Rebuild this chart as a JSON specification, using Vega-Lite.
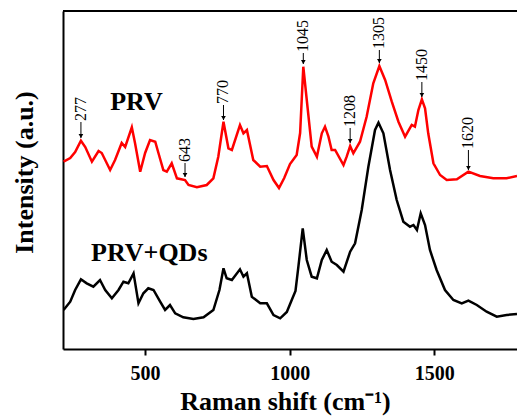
{
  "$schema": "https://vega.github.io/schema/vega-lite/v6.json",
  "width": 454,
  "height": 338,
  "autosize": "none",
  "padding": {"left": 63, "top": 11, "right": 0, "bottom": 67},
  "config": {
    "view": {"stroke": null},
    "font": "Liberation Serif",
    "axis": {"domainColor": "#000", "domainWidth": 2, "tickColor": "#000", "tickWidth": 2, "grid": false}
  },
  "datasets": {
    "spectra": [
      {"shift":218,"intensity":187.3,"sample":"PRV"},{"shift":241,"intensity":191,"sample":"PRV"},{"shift":258,"intensity":197,"sample":"PRV"},{"shift":278,"intensity":208.3,"sample":"PRV"},{"shift":293,"intensity":202,"sample":"PRV"},{"shift":316,"intensity":187.3,"sample":"PRV"},{"shift":339,"intensity":198,"sample":"PRV"},{"shift":350,"intensity":196,"sample":"PRV"},{"shift":379,"intensity":179,"sample":"PRV"},{"shift":396,"intensity":189,"sample":"PRV"},{"shift":419,"intensity":206,"sample":"PRV"},{"shift":431,"intensity":202,"sample":"PRV"},{"shift":454,"intensity":221.7,"sample":"PRV"},{"shift":465,"intensity":206,"sample":"PRV"},{"shift":483,"intensity":177.3,"sample":"PRV"},{"shift":500,"intensity":196,"sample":"PRV"},{"shift":517,"intensity":209,"sample":"PRV"},{"shift":535,"intensity":207.3,"sample":"PRV"},{"shift":546,"intensity":196,"sample":"PRV"},{"shift":563,"intensity":179,"sample":"PRV"},{"shift":575,"intensity":177.3,"sample":"PRV"},{"shift":592,"intensity":185.7,"sample":"PRV"},{"shift":610,"intensity":170.7,"sample":"PRV"},{"shift":638,"intensity":169,"sample":"PRV"},{"shift":650,"intensity":164,"sample":"PRV"},{"shift":679,"intensity":161.7,"sample":"PRV"},{"shift":713,"intensity":164,"sample":"PRV"},{"shift":736,"intensity":170.7,"sample":"PRV"},{"shift":753,"intensity":192.3,"sample":"PRV"},{"shift":771,"intensity":227.3,"sample":"PRV"},{"shift":788,"intensity":200.7,"sample":"PRV"},{"shift":800,"intensity":199,"sample":"PRV"},{"shift":828,"intensity":224,"sample":"PRV"},{"shift":840,"intensity":215.7,"sample":"PRV"},{"shift":852,"intensity":219,"sample":"PRV"},{"shift":874,"intensity":189,"sample":"PRV"},{"shift":898,"intensity":182.3,"sample":"PRV"},{"shift":921,"intensity":183,"sample":"PRV"},{"shift":944,"intensity":169,"sample":"PRV"},{"shift":963,"intensity":161,"sample":"PRV"},{"shift":981,"intensity":171,"sample":"PRV"},{"shift":1001,"intensity":185,"sample":"PRV"},{"shift":1024,"intensity":194,"sample":"PRV"},{"shift":1036,"intensity":216,"sample":"PRV"},{"shift":1047,"intensity":282.3,"sample":"PRV"},{"shift":1059,"intensity":249,"sample":"PRV"},{"shift":1076,"intensity":202.3,"sample":"PRV"},{"shift":1094,"intensity":192.3,"sample":"PRV"},{"shift":1111,"intensity":215.7,"sample":"PRV"},{"shift":1122,"intensity":222.3,"sample":"PRV"},{"shift":1134,"intensity":212.3,"sample":"PRV"},{"shift":1145,"intensity":199,"sample":"PRV"},{"shift":1157,"intensity":199,"sample":"PRV"},{"shift":1186,"intensity":184,"sample":"PRV"},{"shift":1197,"intensity":192.3,"sample":"PRV"},{"shift":1209,"intensity":203,"sample":"PRV"},{"shift":1220,"intensity":195.7,"sample":"PRV"},{"shift":1243,"intensity":207.3,"sample":"PRV"},{"shift":1266,"intensity":232.3,"sample":"PRV"},{"shift":1289,"intensity":265.7,"sample":"PRV"},{"shift":1310,"intensity":283,"sample":"PRV"},{"shift":1330,"intensity":269,"sample":"PRV"},{"shift":1353,"intensity":247.3,"sample":"PRV"},{"shift":1376,"intensity":227.3,"sample":"PRV"},{"shift":1399,"intensity":212.3,"sample":"PRV"},{"shift":1422,"intensity":224,"sample":"PRV"},{"shift":1433,"intensity":222.3,"sample":"PRV"},{"shift":1445,"intensity":239,"sample":"PRV"},{"shift":1457,"intensity":249.7,"sample":"PRV"},{"shift":1468,"intensity":240.7,"sample":"PRV"},{"shift":1479,"intensity":215.7,"sample":"PRV"},{"shift":1497,"intensity":185.7,"sample":"PRV"},{"shift":1520,"intensity":174,"sample":"PRV"},{"shift":1543,"intensity":169,"sample":"PRV"},{"shift":1578,"intensity":169.7,"sample":"PRV"},{"shift":1618,"intensity":177.3,"sample":"PRV"},{"shift":1658,"intensity":173,"sample":"PRV"},{"shift":1704,"intensity":170.7,"sample":"PRV"},{"shift":1750,"intensity":170.7,"sample":"PRV"},{"shift":1786,"intensity":173,"sample":"PRV"},
      {"shift":218,"intensity":39,"sample":"PRV+QDs"},{"shift":241,"intensity":47.3,"sample":"PRV+QDs"},{"shift":258,"intensity":59,"sample":"PRV+QDs"},{"shift":278,"intensity":69.7,"sample":"PRV+QDs"},{"shift":298,"intensity":65.7,"sample":"PRV+QDs"},{"shift":321,"intensity":62.3,"sample":"PRV+QDs"},{"shift":344,"intensity":69,"sample":"PRV+QDs"},{"shift":362,"intensity":59,"sample":"PRV+QDs"},{"shift":385,"intensity":50.7,"sample":"PRV+QDs"},{"shift":408,"intensity":59,"sample":"PRV+QDs"},{"shift":425,"intensity":67.3,"sample":"PRV+QDs"},{"shift":442,"intensity":65.7,"sample":"PRV+QDs"},{"shift":460,"intensity":75.7,"sample":"PRV+QDs"},{"shift":477,"intensity":45.7,"sample":"PRV+QDs"},{"shift":494,"intensity":55.7,"sample":"PRV+QDs"},{"shift":511,"intensity":60.7,"sample":"PRV+QDs"},{"shift":529,"intensity":59,"sample":"PRV+QDs"},{"shift":552,"intensity":47.3,"sample":"PRV+QDs"},{"shift":569,"intensity":39,"sample":"PRV+QDs"},{"shift":586,"intensity":44,"sample":"PRV+QDs"},{"shift":604,"intensity":35.7,"sample":"PRV+QDs"},{"shift":632,"intensity":31.7,"sample":"PRV+QDs"},{"shift":667,"intensity":30,"sample":"PRV+QDs"},{"shift":702,"intensity":31.7,"sample":"PRV+QDs"},{"shift":736,"intensity":39,"sample":"PRV+QDs"},{"shift":757,"intensity":59,"sample":"PRV+QDs"},{"shift":771,"intensity":80.7,"sample":"PRV+QDs"},{"shift":782,"intensity":70.7,"sample":"PRV+QDs"},{"shift":800,"intensity":69,"sample":"PRV+QDs"},{"shift":828,"intensity":79.7,"sample":"PRV+QDs"},{"shift":840,"intensity":72.3,"sample":"PRV+QDs"},{"shift":852,"intensity":75.7,"sample":"PRV+QDs"},{"shift":869,"intensity":52.3,"sample":"PRV+QDs"},{"shift":898,"intensity":45.7,"sample":"PRV+QDs"},{"shift":921,"intensity":45.7,"sample":"PRV+QDs"},{"shift":944,"intensity":34,"sample":"PRV+QDs"},{"shift":967,"intensity":30.7,"sample":"PRV+QDs"},{"shift":990,"intensity":37,"sample":"PRV+QDs"},{"shift":1007,"intensity":49,"sample":"PRV+QDs"},{"shift":1020,"intensity":58,"sample":"PRV+QDs"},{"shift":1030,"intensity":82.3,"sample":"PRV+QDs"},{"shift":1045,"intensity":120.7,"sample":"PRV+QDs"},{"shift":1059,"intensity":89,"sample":"PRV+QDs"},{"shift":1076,"intensity":72.3,"sample":"PRV+QDs"},{"shift":1094,"intensity":70.7,"sample":"PRV+QDs"},{"shift":1111,"intensity":89,"sample":"PRV+QDs"},{"shift":1128,"intensity":99,"sample":"PRV+QDs"},{"shift":1145,"intensity":87.3,"sample":"PRV+QDs"},{"shift":1163,"intensity":84,"sample":"PRV+QDs"},{"shift":1186,"intensity":77.3,"sample":"PRV+QDs"},{"shift":1209,"intensity":97.3,"sample":"PRV+QDs"},{"shift":1226,"intensity":105.7,"sample":"PRV+QDs"},{"shift":1249,"intensity":139,"sample":"PRV+QDs"},{"shift":1272,"intensity":182.3,"sample":"PRV+QDs"},{"shift":1295,"intensity":219,"sample":"PRV+QDs"},{"shift":1307,"intensity":226.3,"sample":"PRV+QDs"},{"shift":1324,"intensity":215.7,"sample":"PRV+QDs"},{"shift":1347,"intensity":179,"sample":"PRV+QDs"},{"shift":1370,"intensity":149,"sample":"PRV+QDs"},{"shift":1393,"intensity":127.3,"sample":"PRV+QDs"},{"shift":1416,"intensity":122.3,"sample":"PRV+QDs"},{"shift":1428,"intensity":124,"sample":"PRV+QDs"},{"shift":1440,"intensity":119,"sample":"PRV+QDs"},{"shift":1453,"intensity":135.7,"sample":"PRV+QDs"},{"shift":1468,"intensity":124,"sample":"PRV+QDs"},{"shift":1485,"intensity":99,"sample":"PRV+QDs"},{"shift":1508,"intensity":79,"sample":"PRV+QDs"},{"shift":1537,"intensity":59,"sample":"PRV+QDs"},{"shift":1566,"intensity":49,"sample":"PRV+QDs"},{"shift":1595,"intensity":45.7,"sample":"PRV+QDs"},{"shift":1618,"intensity":48.3,"sample":"PRV+QDs"},{"shift":1647,"intensity":44,"sample":"PRV+QDs"},{"shift":1681,"intensity":37.3,"sample":"PRV+QDs"},{"shift":1716,"intensity":32.3,"sample":"PRV+QDs"},{"shift":1750,"intensity":34,"sample":"PRV+QDs"},{"shift":1786,"intensity":35,"sample":"PRV+QDs"}
    ],
    "peaks": [
      {"label":"277","shift":278,"tip":211,"top":227},
      {"label":"643","shift":638,"tip":172,"top":186},
      {"label":"770","shift":771,"tip":229,"top":244},
      {"label":"1045","shift":1047,"tip":285,"top":296},
      {"label":"1208","shift":1209,"tip":206,"top":221},
      {"label":"1305","shift":1310,"tip":286,"top":299},
      {"label":"1450","shift":1457,"tip":252,"top":267},
      {"label":"1620","shift":1618,"tip":179,"top":199}
    ],
    "names": [
      {"name":"PRV","shift":379,"intensity":247},
      {"name":"PRV+QDs","shift":313,"intensity":96}
    ],
    "frame": [{"intensity":338}]
  },
  "layer": [
    {
      "data": {"name": "spectra"},
      "mark": {"type": "line", "strokeWidth": 2.5, "clip": true},
      "encoding": {
        "x": {"field": "shift", "type": "quantitative",
          "scale": {"domain": [216, 1786], "nice": false, "zero": false},
          "axis": {"values": [500, 1000, 1500], "format": "d", "title": "Raman shift (cm⁻¹)", "labelFont": "Liberation Serif", "labelFontSize": 20, "labelFontWeight": "bold", "labelColor": "#000", "tickSize": 6, "labelPadding": 8, "titleFont": "Liberation Serif", "titleFontSize": 26, "titleFontWeight": "bold", "titleColor": "#000", "titleX": 222, "titleY": 52, "titleBaseline": "middle", "titleAnchor": null}},
        "y": {"field": "intensity", "type": "quantitative",
          "scale": {"domain": [0, 338], "nice": false, "zero": false},
          "axis": {"labels": false, "ticks": false, "title": "Intensity (a.u.)", "titleFont": "Liberation Serif", "titleFontSize": 26, "titleFontWeight": "bold", "titleColor": "#000", "titleX": -39, "titleY": 161, "titleAngle": 270, "titleBaseline": "middle", "titleAlign": "center"}},
        "color": {"field": "sample", "type": "nominal", "scale": {"domain": ["PRV", "PRV+QDs"], "range": ["#ff0000", "#000000"]}, "legend": null},
        "detail": {"field": "sample"}
      }
    },
    {
      "data": {"name": "frame"},
      "mark": {"type": "rule", "color": "#000", "strokeWidth": 2},
      "encoding": {"y": {"field": "intensity", "type": "quantitative"}}
    },
    {
      "data": {"name": "peaks"},
      "mark": {"type": "rule", "color": "#000", "strokeWidth": 1},
      "encoding": {
        "x": {"field": "shift", "type": "quantitative"},
        "y": {"field": "tip", "type": "quantitative"},
        "y2": {"field": "top"}
      }
    },
    {
      "data": {"name": "peaks"},
      "mark": {"type": "point", "shape": "triangle-down", "filled": true, "color": "#000", "size": 22, "opacity": 1, "yOffset": -2},
      "encoding": {
        "x": {"field": "shift", "type": "quantitative"},
        "y": {"field": "tip", "type": "quantitative"}
      }
    },
    {
      "data": {"name": "peaks"},
      "mark": {"type": "text", "angle": 270, "align": "left", "baseline": "middle", "font": "Liberation Serif", "fontSize": 16, "color": "#000", "dx": 1},
      "encoding": {
        "x": {"field": "shift", "type": "quantitative"},
        "y": {"field": "top", "type": "quantitative"},
        "text": {"field": "label"}
      }
    },
    {
      "data": {"name": "names"},
      "mark": {"type": "text", "align": "left", "baseline": "middle", "font": "Liberation Serif", "fontSize": 26, "fontWeight": "bold", "color": "#000"},
      "encoding": {
        "x": {"field": "shift", "type": "quantitative"},
        "y": {"field": "intensity", "type": "quantitative"},
        "text": {"field": "name"}
      }
    }
  ]
}
